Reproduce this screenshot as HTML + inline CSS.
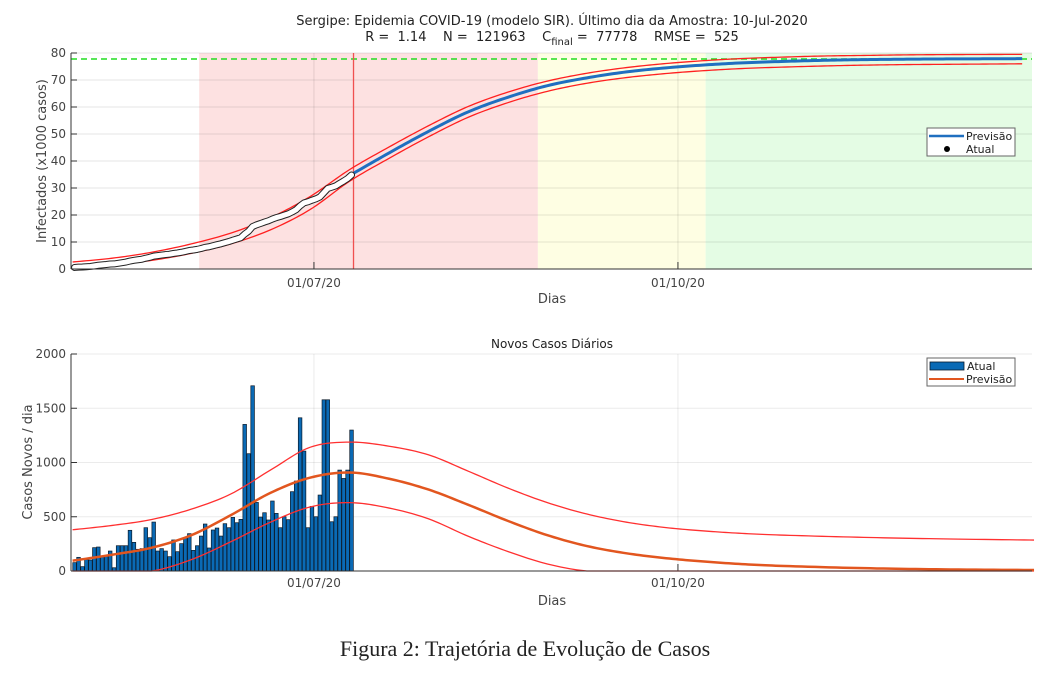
<!DOCTYPE html>
<html><head><meta charset="utf-8"><style>
html,body{margin:0;padding:0;background:#fff;}
svg{display:block;font-family:"DejaVu Sans","Liberation Sans",sans-serif;}
.tk{font-size:12px;fill:#444;}
</style></head><body>
<svg id="s" width="1056" height="675" viewBox="0 0 1056 675">
<g id="top"></g>
<g id="bot"></g>
<text x="525" y="656" text-anchor="middle" style="font-family:'Liberation Serif',serif;font-size:22px;fill:#222">Figura 2: Trajetória de Evolução de Casos</text>
</svg>
<script>
// ---- data (day 0 = 01/05/2020) ----
const dailyCases = [77,126,40,107,101,215,221,138,138,184,30,233,233,233,375,264,200,206,399,307,451,184,206,184,132,286,178,252,307,344,190,233,322,433,212,378,396,322,436,399,494,445,476,1351,1081,1707,632,497,537,470,645,531,399,500,473,731,829,1412,1105,399,596,500,700,1578,1578,454,500,930,853,930,1299];
const initialCases = 500;
const sampleDays = [0,10,20,30,40,50,60,70,80,90,100,110,120,130,140,150,160,170,180,190,200,210,220,230,240];
const cumPred  = [2.0,3.2,5,7.8,11.5,17,24.5,34.6,43,51,58.2,63.6,67.9,70.8,73,74.5,75.6,76.4,76.9,77.3,77.55,77.7,77.8,77.85,77.9];
const cumUpper = [2.6,4,6.2,9.3,13.3,19,26.8,36.8,45.2,53.1,60.2,65.5,69.6,72.5,74.6,76.1,77.2,78,78.5,78.9,79.1,79.3,79.4,79.45,79.5];
const cumLower = [0.3,1.5,3.2,5.8,9.3,14.5,22,32.5,41,49,56.2,61.6,65.8,68.8,70.9,72.4,73.5,74.3,74.8,75.2,75.5,75.7,75.8,75.9,76];
const dailyDays  = [0,10,20,30,40,50,60,70,80,90,100,110,120,130,140,150,160,170,180,200,220,243];
const dailyPred  = [95,150,215,330,515,720,860,908,850,750,610,462,330,230,163,118,86,62,46,26,15,9];
const dailyUpper = [380,420,475,570,710,930,1140,1188,1150,1070,920,765,630,525,450,400,368,345,330,310,296,285];
const dailyLower = [0,0,0,105,270,450,590,630,580,480,320,180,65,0,0,0,0,0,0,0,0,0];
const cFinal = 77.778;
const lastDay = 71;
const topTicks = [0,10,20,30,40,50,60,70,80];
const botTicks = [0,500,1000,1500,2000];
const dateTicks = [61,153];
const dateLabels = ["01/07/20","01/10/20"];
const regionBreaks = [0,32,117.6,160,243];
const regionColors = ["#ffffff","#fde1e1","#fefee3","#e4fce4"];

const NS="http://www.w3.org/2000/svg";
const L=71,R=1032;
const xD=d=>72.6+d*3.9565;
const yT=v=>269-v*2.7;
const yB=v=>571-v*0.1085;
function el(p,t,a){const e=document.createElementNS(NS,t);for(const k in a)e.setAttribute(k,a[k]);p.appendChild(e);return e;}
function smooth(pts,maxY){const c=y=>maxY===undefined?y:Math.min(maxY,y);let d="M"+pts[0][0]+","+c(pts[0][1]);
 for(let i=0;i<pts.length-1;i++){const p0=pts[i-1]||pts[i],p1=pts[i],p2=pts[i+1],p3=pts[i+2]||p2;
  for(let s=1;s<=12;s++){const t=s/12,t2=t*t,t3=t2*t;
   const f=(a,b,cc,dd)=>0.5*((2*b)+(-a+cc)*t+(2*a-5*b+4*cc-dd)*t2+(-a+3*b-3*cc+dd)*t3);
   d+=" L"+f(p0[0],p1[0],p2[0],p3[0]).toFixed(2)+","+c(f(p0[1],p1[1],p2[1],p3[1])).toFixed(2);}}
 return d;}
function txt(p,x,y,s,a){const t=el(p,"text",Object.assign({x:x,y:y},a||{}));t.textContent=s;return t;}

// ===== TOP =====
const T=document.getElementById("top");
for(let i=0;i<regionColors.length;i++){
 const r=el(T,"rect",{x:Math.max(L,xD(regionBreaks[i])),y:53,width:Math.min(R,xD(regionBreaks[i+1]))-Math.max(L,xD(regionBreaks[i])),height:216,fill:regionColors[i]});
 
 
}
topTicks.forEach(v=>{
 if(v>0){const g=el(T,"line",{x1:L,x2:R,y1:yT(v),y2:yT(v),stroke:"#000","stroke-opacity":0.1});}
 el(T,"line",{x1:L,x2:L+6,y1:yT(v),y2:yT(v),stroke:"#333"});
 const t=txt(T,L-5,yT(v)+4,String(v),{class:"tk","text-anchor":"end"});
 
});
dateTicks.forEach((d,i)=>{
 el(T,"line",{x1:xD(d),x2:xD(d),y1:53,y2:269,stroke:"#000","stroke-opacity":0.1});
 el(T,"line",{x1:xD(d),x2:xD(d),y1:269,y2:262,stroke:"#333"});
 const t=txt(T,xD(d),287,dateLabels[i],{class:"tk","text-anchor":"middle"});
 
});
el(T,"line",{x1:L,x2:R,y1:yT(cFinal),y2:yT(cFinal),stroke:"#22dd22","stroke-width":1.5,"stroke-dasharray":"6,4"});
el(T,"line",{x1:xD(lastDay),x2:xD(lastDay),y1:53,y2:269,stroke:"#f05050","stroke-width":1.3});
[cumUpper,cumLower].forEach(arr=>{
 const p=el(T,"path",{d:smooth(sampleDays.map((d,i)=>[xD(d),yT(arr[i])])),fill:"none",stroke:"#ff2020","stroke-width":1.3});
 
});
{const pts=[];sampleDays.forEach((d,i)=>{if(d>=70)pts.push([xD(d),yT(cumPred[i])]);});
 const p=el(T,"path",{d:smooth(pts),fill:"none",stroke:"#1f6fc0","stroke-width":3});
 }
{let c=initialCases;const pts=[];dailyCases.forEach((v,i)=>{c+=v;pts.push((xD(i+0.5))+","+yT(c/1000));});
 el(T,"polyline",{points:pts.join(" "),fill:"none",stroke:"#222","stroke-width":7,"stroke-linejoin":"round","stroke-linecap":"round"});
 const p=el(T,"polyline",{points:pts.join(" "),fill:"none",stroke:"#fff","stroke-width":5,"stroke-linejoin":"round","stroke-linecap":"round"});
 }
el(T,"line",{x1:L,x2:L,y1:53,y2:269,stroke:"#333"});
el(T,"line",{x1:L,x2:R,y1:269,y2:269,stroke:"#333"});
{const t=txt(T,552,25,"Sergipe: Epidemia COVID-19 (modelo SIR). Último dia da Amostra: 10-Jul-2020",{"text-anchor":"middle","font-size":"13","fill":"#222"});
 }
{const t=el(T,"text",{x:552,y:41,"text-anchor":"middle","font-size":"13","fill":"#222"});
 t.innerHTML='R =  1.14    N =  121963    C<tspan dy="4" font-size="10">final</tspan><tspan dy="-4"> =  77778    RMSE =  525</tspan>';
 t.style.whiteSpace="pre";
 }
{const t=txt(T,0,0,"Infectados (x1000 casos)",{transform:"translate(46,161) rotate(-90)","text-anchor":"middle","font-size":"13","fill":"#444"});
 }
{const t=txt(T,552,303,"Dias",{"text-anchor":"middle","font-size":"13","fill":"#444"});
 }
{const g=el(T,"g",{});
 el(g,"rect",{x:927,y:128,width:88,height:28,fill:"#fff",stroke:"#666"});
 el(g,"line",{x1:929,x2:964,y1:136,y2:136,stroke:"#1f6fc0","stroke-width":2.5});
 txt(g,966,140,"Previsão",{"font-size":"11","fill":"#222"});
 el(g,"circle",{cx:947,cy:149,r:3,fill:"#000"});
 txt(g,966,153,"Atual",{"font-size":"11","fill":"#222"});}

// ===== BOTTOM =====
const B=document.getElementById("bot");
botTicks.forEach(v=>{
 if(v>0){const g=el(B,"line",{x1:L,x2:R,y1:yB(v),y2:yB(v),stroke:"#000","stroke-opacity":0.08});}
 el(B,"line",{x1:L,x2:L+6,y1:yB(v),y2:yB(v),stroke:"#333"});
 const t=txt(B,L-5,yB(v)+4,String(v),{class:"tk","text-anchor":"end"});
 
});
dateTicks.forEach((d,i)=>{
 el(B,"line",{x1:xD(d),x2:xD(d),y1:354,y2:571,stroke:"#000","stroke-opacity":0.08});
 el(B,"line",{x1:xD(d),x2:xD(d),y1:571,y2:564,stroke:"#333"});
 const t=txt(B,xD(d),587,dateLabels[i],{class:"tk","text-anchor":"middle"});
 
});
dailyCases.forEach((v,i)=>{
 const b=el(B,"rect",{x:xD(i+0.5)-1.8,y:yB(v),width:3.6,height:571-yB(v),fill:"#0a6ab5",stroke:"#0b1a2a","stroke-width":0.7});
 
 
});
[dailyUpper,dailyLower].forEach(arr=>{
 const p=el(B,"path",{d:smooth(dailyDays.map((d,i)=>[xD(d),yB(arr[i])]),571),fill:"none",stroke:"#ff3030","stroke-width":1.3});
 
});
{const p=el(B,"path",{d:smooth(dailyDays.map((d,i)=>[xD(d),yB(dailyPred[i])]),571),fill:"none",stroke:"#e2561f","stroke-width":2.5});
 }
el(B,"line",{x1:L,x2:L,y1:354,y2:571,stroke:"#333"});
el(B,"line",{x1:L,x2:R,y1:571,y2:571,stroke:"#333"});
{const t=txt(B,552,348,"Novos Casos Diários",{"text-anchor":"middle","font-size":"12","fill":"#222"});
 }
{const t=txt(B,0,0,"Casos Novos / dia",{transform:"translate(32,462) rotate(-90)","text-anchor":"middle","font-size":"13","fill":"#444"});
 }
{const t=txt(B,552,605,"Dias",{"text-anchor":"middle","font-size":"13","fill":"#444"});
 }
{const g=el(B,"g",{});
 el(g,"rect",{x:927,y:358,width:88,height:28,fill:"#fff",stroke:"#666"});
 el(g,"rect",{x:930,y:362,width:34,height:8,fill:"#0a6ab5",stroke:"#0b1a2a","stroke-width":0.8});
 txt(g,967,370,"Atual",{"font-size":"11","fill":"#222"});
 el(g,"line",{x1:929,x2:964,y1:379,y2:379,stroke:"#e2561f","stroke-width":2});
 txt(g,966,383,"Previsão",{"font-size":"11","fill":"#222"});}
</script>
</body></html>
